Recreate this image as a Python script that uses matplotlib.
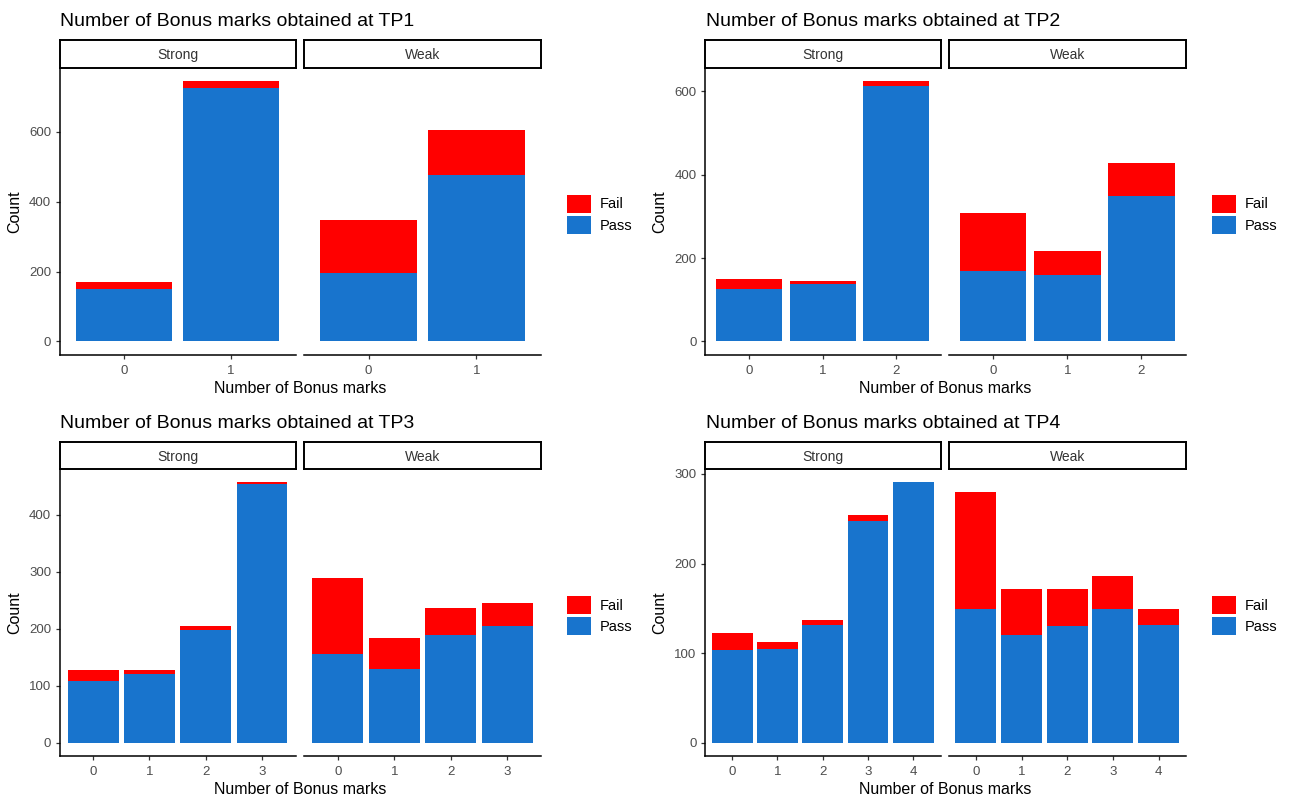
import matplotlib
matplotlib.use('Agg')
import matplotlib.pyplot as plt
from matplotlib.patches import Patch

plt.rcParams['font.family'] = ['Liberation Sans', 'DejaVu Sans']

# Data: stacked counts (Pass at bottom, Fail on top) per time point and group
bonus_tp1 = [0, 1]
strong_pass_tp1 = [150, 725]
strong_fail_tp1 = [20, 20]
weak_pass_tp1 = [197, 475]
weak_fail_tp1 = [151, 129]

bonus_tp2 = [0, 1, 2]
strong_pass_tp2 = [127, 138, 613]
strong_fail_tp2 = [22, 8, 12]
weak_pass_tp2 = [168, 160, 350]
weak_fail_tp2 = [141, 58, 79]

bonus_tp3 = [0, 1, 2, 3]
strong_pass_tp3 = [108, 121, 198, 453]
strong_fail_tp3 = [20, 7, 7, 4]
weak_pass_tp3 = [156, 129, 189, 205]
weak_fail_tp3 = [133, 55, 48, 41]

bonus_tp4 = [0, 1, 2, 3, 4]
strong_pass_tp4 = [104, 105, 132, 248, 291]
strong_fail_tp4 = [19, 8, 5, 6, 0]
weak_pass_tp4 = [149, 120, 130, 149, 132]
weak_fail_tp4 = [131, 52, 42, 37, 17]

y_ticks = [[0, 200, 400, 600], [0, 200, 400, 600],
           [0, 100, 200, 300, 400], [0, 100, 200, 300]]
groups = ['Strong', 'Weak']

PASS_COLOR = '#1874CD'
FAIL_COLOR = '#FF0000'
W, H = 1291, 798


def box(x0, y0, x1, y1):
    # pixel box (top-left origin) -> figure fraction
    return [x0 / W, 1 - y1 / H, (x1 - x0) / W, (y1 - y0) / H]


panels = [
    ('TP1', bonus_tp1, [(strong_pass_tp1, strong_fail_tp1), (weak_pass_tp1, weak_fail_tp1)]),
    ('TP2', bonus_tp2, [(strong_pass_tp2, strong_fail_tp2), (weak_pass_tp2, weak_fail_tp2)]),
    ('TP3', bonus_tp3, [(strong_pass_tp3, strong_fail_tp3), (weak_pass_tp3, weak_fail_tp3)]),
    ('TP4', bonus_tp4, [(strong_pass_tp4, strong_fail_tp4), (weak_pass_tp4, weak_fail_tp4)]),
]

# layout in pixels
col_x = [[(59.5, 295.5), (304, 541)], [(705, 940.5), (948.5, 1186)]]
row_y = [(40, 68, 354.5), (442, 469, 756)]

fig = plt.figure(figsize=(W / 100, H / 100), dpi=100)

for i, (tp, bonus, data) in enumerate(panels):
    r, c = divmod(i, 2)
    strip_top, ax_top, ax_bot = row_y[r]
    ymax = max(max(p + f for p, f in zip(pp, ff)) for pp, ff in data)
    ylim = (-0.05 * ymax, 1.05 * ymax)

    for j, (pas, fail) in enumerate(data):
        x0, x1 = col_x[c][j]
        ax = fig.add_axes(box(x0, ax_top, x1, ax_bot))
        ax.bar(bonus, pas, width=0.9, color=PASS_COLOR, linewidth=0)
        ax.bar(bonus, fail, width=0.9, bottom=pas, color=FAIL_COLOR, linewidth=0)
        ax.set_xlim(-0.6, len(bonus) - 1 + 0.6)
        ax.set_ylim(*ylim)
        ax.set_xticks(bonus)
        ax.set_xticklabels([str(b) for b in bonus])
        ax.set_yticks(y_ticks[i])
        for s in ['top', 'right']:
            ax.spines[s].set_visible(False)
        ax.spines['bottom'].set_linewidth(1.1)
        ax.spines['left'].set_linewidth(1.1)
        ax.tick_params(axis='both', length=3, width=0.9, color='#333333',
                       labelcolor='#4D4D4D', labelsize=9.5)
        ax.tick_params(axis='x', pad=4.5)
        ax.tick_params(axis='y', pad=3)
        if j == 1:
            ax.spines['left'].set_visible(False)
            ax.tick_params(axis='y', left=False, labelleft=False)
        else:
            ax.set_ylabel('Count', fontsize=11.5, labelpad=5)

        # facet strip
        sax = fig.add_axes(box(x0, strip_top, x1, ax_top))
        sax.set_xticks([])
        sax.set_yticks([])
        for s in sax.spines.values():
            s.set_linewidth(1.4)
            s.set_color('black')
        sax.text(0.5, 0.45, groups[j], ha='center', va='center',
                 fontsize=10, color='#333333', transform=sax.transAxes)

    left = col_x[c][0][0]
    right = col_x[c][1][1]
    fig.text((left + 1) / W, 1 - (strip_top - 19) / H,
             'Number of Bonus marks obtained at ' + tp,
             fontsize=14, ha='left', va='center', color='black')
    fig.text((left + right) / 2 / W, 1 - (ax_bot + 34) / H,
             'Number of Bonus marks', fontsize=11.5, ha='center', va='center')

    handles = [Patch(facecolor=FAIL_COLOR, label='Fail'),
               Patch(facecolor=PASS_COLOR, label='Pass')]
    fig.legend(handles=handles, loc='center left', frameon=False,
               bbox_to_anchor=((right + 25.5) / W, 1 - ((ax_top + ax_bot) / 2 + 3) / H),
               fontsize=10.5, handlelength=1.65, handleheight=1.55,
               handletextpad=0.65, labelspacing=0.2, borderpad=0, borderaxespad=0)

fig.savefig('out.png', dpi=100)
